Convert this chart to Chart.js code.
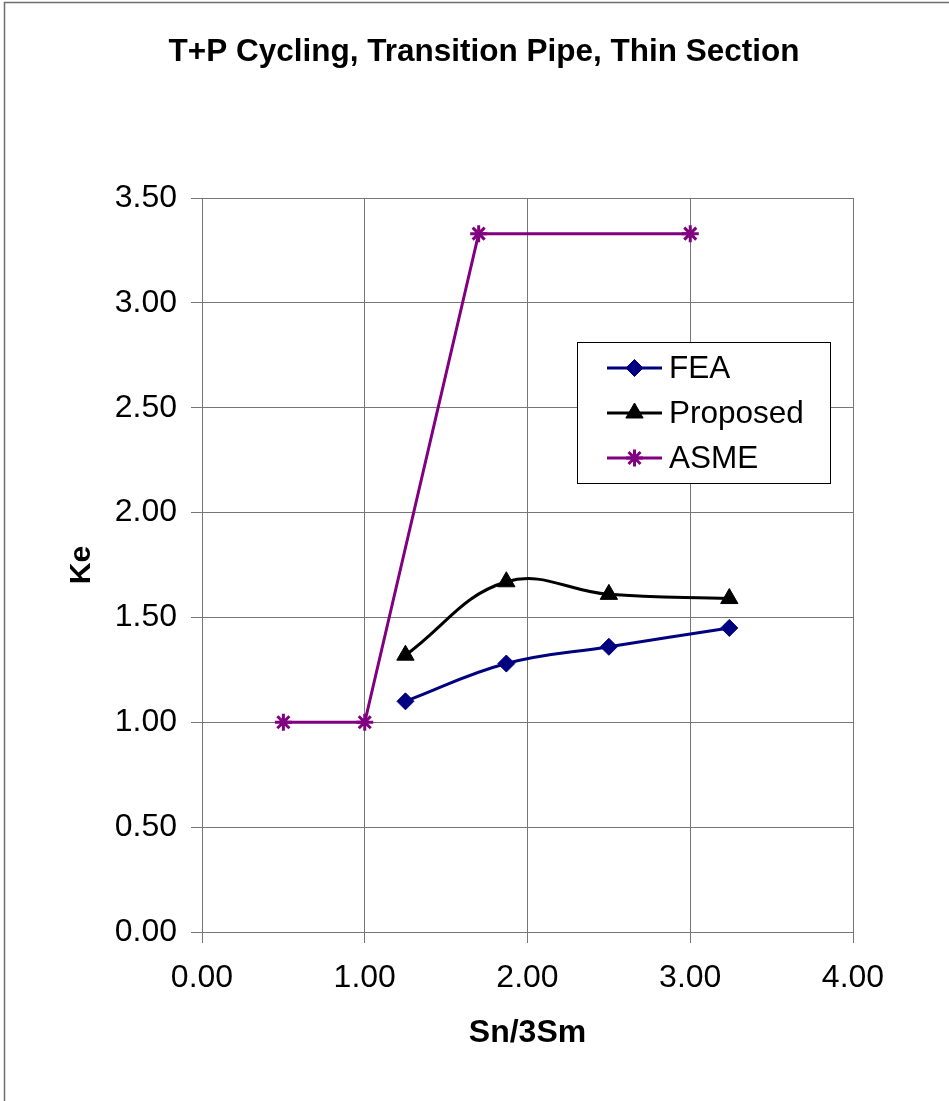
<!DOCTYPE html>
<html>
<head>
<meta charset="utf-8">
<style>
html,body{margin:0;padding:0;background:#fff;}
#wrap{width:949px;height:1101px;position:relative;}
canvas{display:block;}
</style>
<script src="https://cdn.jsdelivr.net/npm/chart.js@4/dist/chart.umd.min.js"></script>
</head>
<body>
<div id="wrap"><canvas id="c" width="949" height="1101"></canvas></div>
<script>
// ---- data ----
const chartTitle = 'T+P Cycling, Transition Pipe, Thin Section';
const xAxisTitle = 'Sn/3Sm';
const yAxisTitle = 'Ke';
const seriesNames = ['FEA', 'Proposed', 'ASME'];
const feaX = [1.25, 1.87, 2.50, 3.24];
const feaY = [1.10, 1.28, 1.36, 1.45];
const proposedX = [1.25, 1.87, 2.50, 3.24];
const proposedY = [1.32, 1.67, 1.61, 1.59];
const asmeX = [0.50, 1.00, 1.70, 3.00];
const asmeY = [1.00, 1.00, 3.33, 3.33];
const xTicks = [0, 1, 2, 3, 4];
const yTicks = [0, 0.5, 1, 1.5, 2, 2.5, 3, 3.5];

const pts = (xs, ys) => xs.map((x, i) => ({x: x, y: ys[i]}));

const FONT = "'Liberation Sans', Arial, sans-serif";
const GRID = '#767676';

const bgPlugin = {
  id: 'bg',
  beforeDraw(chart) {
    const ctx = chart.ctx;
    ctx.save();
    ctx.fillStyle = '#fff';
    ctx.fillRect(0, 0, chart.width, chart.height);
    ctx.strokeStyle = '#6e6e6e';
    ctx.lineWidth = 1.5;
    ctx.strokeRect(4.5, 2.5, 1200, 1300);
    ctx.restore();
  },
  afterDraw(chart) {
    const ctx = chart.ctx;
    ctx.save();
    ctx.fillStyle = '#000';
    ctx.font = 'bold 31.5px ' + FONT;
    ctx.textAlign = 'center';
    ctx.textBaseline = 'middle';
    ctx.fillText(chartTitle, 484, 52);
    ctx.restore();
  }
};

const legendPlugin = {
  id: 'boxLegend',
  afterDatasetsDraw(chart) {
    const ctx = chart.ctx;
    const box = {x: 577.5, y: 342.5, w: 253, h: 141};
    ctx.save();
    ctx.fillStyle = '#fff';
    ctx.fillRect(box.x, box.y, box.w, box.h);
    ctx.strokeStyle = '#000';
    ctx.lineWidth = 1;
    ctx.strokeRect(box.x, box.y, box.w, box.h);
    const rows = [368, 413, 458];
    chart.data.datasets.forEach((ds, i) => {
      const y = rows[i];
      ctx.strokeStyle = ds.borderColor;
      ctx.lineWidth = ds.borderWidth;
      ctx.beginPath();
      ctx.moveTo(607, y);
      ctx.lineTo(662, y);
      ctx.stroke();
      ctx.fillStyle = ds.pointBackgroundColor;
      ctx.strokeStyle = ds.pointBorderColor;
      ctx.lineWidth = ds.pointBorderWidth;
      Chart.helpers.drawPoint(ctx, {
        pointStyle: ds.pointStyle,
        radius: ds.pointRadius,
        rotation: 0,
        borderWidth: ds.pointBorderWidth
      }, 634.5, y);
      ctx.fillStyle = '#000';
      ctx.font = '31.5px ' + FONT;
      ctx.textAlign = 'left';
      ctx.textBaseline = 'middle';
      ctx.fillText(ds.label, 669, y + 1);
    });
    ctx.restore();
  }
};

new Chart(document.getElementById('c'), {
  type: 'line',
  data: {
    datasets: [
      {
        label: seriesNames[0],
        data: pts(feaX, feaY),
        borderColor: '#000080',
        backgroundColor: '#000080',
        borderWidth: 3,
        tension: 0.4,
        pointStyle: 'rectRot',
        pointRadius: 8.5,
        pointBorderWidth: 1,
        pointBackgroundColor: '#000080',
        pointBorderColor: '#000080'
      },
      {
        label: seriesNames[1],
        data: pts(proposedX, proposedY),
        borderColor: '#000000',
        backgroundColor: '#000000',
        borderWidth: 3,
        tension: 0.4,
        pointStyle: 'triangle',
        pointRadius: 10,
        pointBorderWidth: 1,
        pointBackgroundColor: '#000000',
        pointBorderColor: '#000000'
      },
      {
        label: seriesNames[2],
        data: pts(asmeX, asmeY),
        borderColor: '#800080',
        backgroundColor: '#800080',
        borderWidth: 3,
        tension: 0,
        pointStyle: 'star',
        pointRadius: 8.5,
        pointBorderWidth: 3,
        pointBackgroundColor: '#800080',
        pointBorderColor: '#800080'
      }
    ]
  },
  options: {
    responsive: false,
    animation: false,
    devicePixelRatio: 1,
    layout: {padding: {left: 0, right: 96, top: 198, bottom: 0}},
    plugins: {
      legend: {display: false},
      tooltip: {enabled: false},
      title: {display: false}
    },
    scales: {
      x: {
        type: 'linear',
        min: 0, max: 4,
        afterBuildTicks(scale) { scale.ticks = xTicks.map(v => ({value: v})); },
        afterFit(scale) { scale.height = 169; },
        ticks: {
          color: '#000',
          font: {family: FONT, size: 32},
          padding: 16,
          maxRotation: 0,
          callback: v => Number(v).toFixed(2)
        },
        grid: {color: GRID, lineWidth: 1, tickLength: 11, drawTicks: true},
        border: {color: GRID, width: 1},
        title: {
          display: true,
          text: xAxisTitle,
          color: '#000',
          font: {family: FONT, size: 32, weight: 'bold', lineHeight: 1.2},
          padding: {top: 49, bottom: 49}
        }
      },
      y: {
        type: 'linear',
        min: 0, max: 3.5,
        afterBuildTicks(scale) { scale.ticks = yTicks.map(v => ({value: v})); },
        afterFit(scale) { scale.width = 202; },
        ticks: {
          color: '#000',
          font: {family: FONT, size: 32},
          padding: 14,
          callback: v => Number(v).toFixed(2)
        },
        grid: {color: GRID, lineWidth: 1, tickLength: 11, drawTicks: true},
        border: {color: GRID, width: 1},
        title: {
          display: true,
          text: yAxisTitle,
          color: '#000',
          font: {family: FONT, size: 30, weight: 'bold', lineHeight: 1.2},
          padding: {top: 64, bottom: 0}
        }
      }
    }
  },
  plugins: [bgPlugin, legendPlugin]
});
</script>
</body>
</html>
